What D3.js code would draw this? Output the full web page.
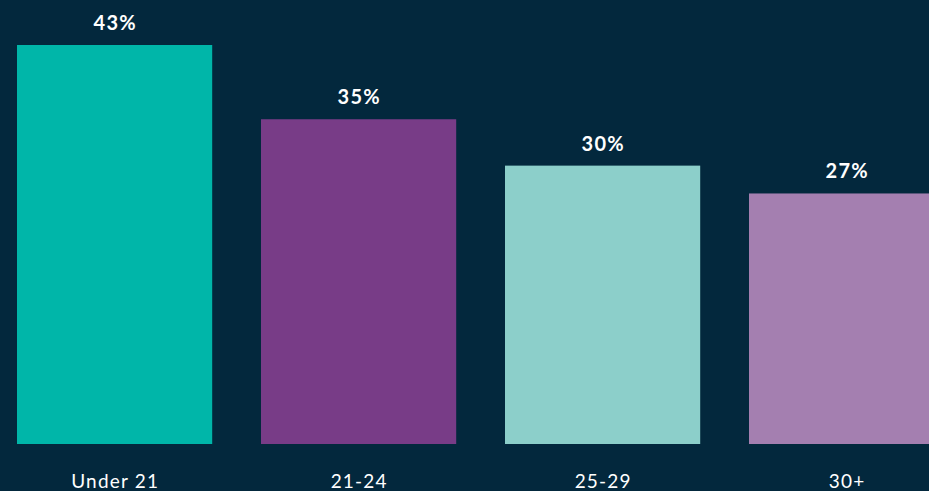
<!DOCTYPE html>
<html><head>
<meta charset="utf-8">
<script src="https://d3js.org/d3.v7.min.js"></script>
<style>
  html, body { margin: 0; padding: 0; background: #03283d; }
  svg { display: block; }
  .value { font-family: Lato, "Open Sans", sans-serif; font-weight: 700; font-size: 20px; letter-spacing: 1.2px; fill: #ffffff; }
  .cat { font-family: Lato, "Open Sans", sans-serif; font-size: 19px; letter-spacing: 1.2px; fill: #ffffff; }
</style>
</head>
<body>
<svg id="chart" width="929" height="491"></svg>
<script>
  // data
  const categories = ["Under 21", "21-24", "25-29", "30+"];
  const values = [43, 35, 30, 27];
  const colors = ["#00b6a9", "#783c87", "#8ccfca", "#a47fb0"];

  const svg = d3.select("svg#chart");
  const baseY = 444;

  // step 244, bar width 195
  const x = d3.scaleBand()
    .domain(categories)
    .range([17, 17 + 244 * 3.8])
    .paddingInner(0.2)
    .paddingOuter(0);

  const y = d3.scaleLinear().domain([0, 43]).range([baseY, 45]);

  const data = categories.map((c, i) => ({cat: c, val: values[i], color: colors[i]}));

  svg.selectAll("rect.bar")
    .data(data)
    .join("rect")
    .attr("class", "bar")
    .attr("x", d => x(d.cat))
    .attr("y", d => y(d.val))
    .attr("width", x.bandwidth())
    .attr("height", d => baseY - y(d.val))
    .attr("fill", d => d.color);

  // letter-spacing adds trailing space, so nudge by half of it
  svg.selectAll("text.value")
    .data(data)
    .join("text")
    .attr("class", "value")
    .attr("x", d => x(d.cat) + x.bandwidth() / 2 + 0.6)
    .attr("y", d => y(d.val) - 15)
    .attr("text-anchor", "middle")
    .text(d => d.val + "%");

  svg.selectAll("text.cat")
    .data(data)
    .join("text")
    .attr("class", "cat")
    .attr("x", d => x(d.cat) + x.bandwidth() / 2 + 0.6)
    .attr("y", 488)
    .attr("text-anchor", "middle")
    .text(d => d.cat);
</script>
</body>
</html>
